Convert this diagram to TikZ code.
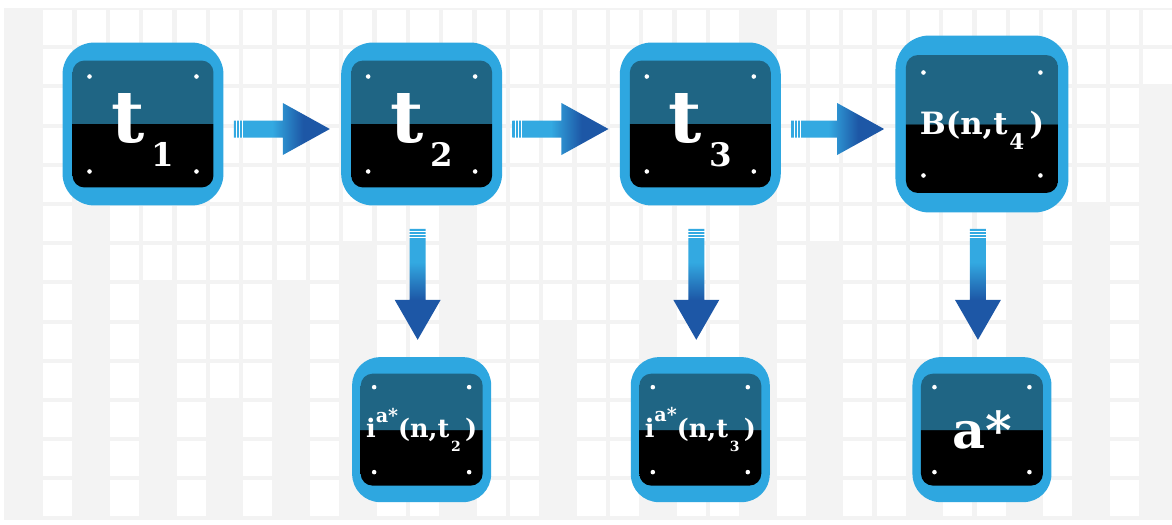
\documentclass[tikz,border=0pt]{standalone}
\usepackage{fontspec}
\usepackage{graphicx}
\setmainfont{DejaVu Serif}
\usetikzlibrary{positioning,calc}

\definecolor{marco}{HTML}{2EA7E0}
\definecolor{tapa}{HTML}{1F6584}
\definecolor{fondo}{HTML}{F3F3F3}
\definecolor{flechaclaro}{HTML}{33A9E1}
\definecolor{flechaoscuro}{HTML}{1D57A6}

\pgfdeclareverticalshading{partida}{100bp}{color(0bp)=(black); color(50bp)=(black); color(50bp)=(tapa); color(100bp)=(tapa)}
\pgfdeclarehorizontalshading{hflecha}{100bp}{color(0bp)=(flechaclaro); color(45bp)=(flechaclaro); color(61bp)=(flechaoscuro); color(100bp)=(flechaoscuro)}
\pgfdeclareverticalshading{vflecha}{100bp}{color(0bp)=(flechaoscuro); color(43bp)=(flechaoscuro); color(60bp)=(flechaclaro); color(100bp)=(flechaclaro)}

\newcommand\bajo[3]{\kern1pt\raisebox{-#1em}{\scalebox{#2}{#3}}}
\newcommand\alto[3]{\raisebox{#1em}{\scalebox{#2}{#3}}}

\tikzset{
	caja/.style n args={6}{rectangle, rounded corners=#3, fill=marco, text=white,
		minimum width=#1, minimum height=#2, inner sep=0pt,
		path picture={
			\shade[shading=partida, rounded corners=0.24cm]
				($(path picture bounding box.north west)+(#4)$) rectangle
				($(path picture bounding box.south east)-(#4)$);
			\fill[white] ($(path picture bounding box.north west)+(#5,#6)$) circle (1.3pt);
			\fill[white] ($(path picture bounding box.north east)+(-#5,#6)$) circle (1.3pt);
			\fill[white] ($(path picture bounding box.south west)+(#5,-#6)$) circle (1.3pt);
			\fill[white] ($(path picture bounding box.south east)+(-#5,-#6)$) circle (1.3pt);
		}},
	grande/.style={caja={3.22cm}{3.26cm}{0.64cm}{10,18}{27}{34},
		font=\bfseries\fontsize{41}{44}\selectfont, text height=36pt, text depth=15pt},
	final/.style={caja={3.46cm}{3.54cm}{0.68cm}{10.5,19.5}{28}{37},
		font=\bfseries\fontsize{17.5}{20}\selectfont, text height=20pt, text depth=8.6pt},
	chica/.style={caja={2.78cm}{2.9cm}{0.56cm}{8.5,16.5}{22}{30},
		font=\bfseries\fontsize{14.5}{16}\selectfont},
	hflecha/.style={shading=hflecha},
	vflecha/.style={shading=vflecha},
	raya/.style={white, line width=0.7pt}
}

\begin{document}
\begin{tikzpicture}[x=0.02cm, y=-0.02cm, node distance=2.34cm]
	\useasboundingbox (0,0) rectangle (1172,524);
	\fill[white] (0,0) rectangle (1172,524);
	\fill[fondo] (4,8) rectangle (1172,520);
	\foreach \k/\r in {0/0,1/13,2/5,3/13,4/7,5/13,6/10,7/13,8/7,9/13,10/6,11/13,12/13,13/5,14/13,15/13,16/8,17/13,18/13,19/7,20/13,21/13,22/0,23/13,24/6,25/13,26/13,27/9,28/13,29/13,30/4,31/13,32/5,33/13,34/2} {
		\foreach \j in {0,...,12} {
			\ifnum\j<\r \fill[white] ({33.33*\k+10},{10+39.2*\j}) rectangle ++(29,35.2);\fi
		}
	}
	
	\node[grande] (t1) at (143,124) {t\kern3pt\bajo{.34}{.45}{1}};
	\node[grande, right=of t1] (t2) {t\kern3pt\bajo{.34}{.45}{2}};
	\node[grande, right=of t2] (t3) {t\kern3pt\bajo{.34}{.45}{3}};
	\node[final, right=2.28cm of t3] (bt) {B(n,t\bajo{.5}{.7}{4}\,)};
	
	\node[chica, below=3.02cm of t2] (i2) {i\alto{.6}{.75}{a*}(n,t\bajo{.55}{.55}{2}\,)};
	\node[chica, below=3.02cm of t3] (i3) {i\alto{.6}{.75}{a*}(n,t\bajo{.55}{.55}{3}\,)};
	\node[chica, below=2.88cm of bt] (as) {\fontsize{29}{30}\selectfont a*};
	
	\foreach \a/\b in {t1/t2, t2/t3, t3/bt} {
		\coordinate (ini) at ($(\a.east)+(10,5)$);
		\coordinate (fin) at ($(\b.west)+(-11,5)$);
		\shade[hflecha] ($(ini)+(0,-8.5)$) -- ($(fin)+(-47,-8.5)$) -- ($(fin)+(-47,-26)$) -- (fin)
			-- ($(fin)+(-47,26)$) -- ($(fin)+(-47,8.5)$) -- ($(ini)+(0,8.5)$) -- cycle;
		\foreach \s in {3,6,9} \draw[raya] ($(ini)+(\s,-9)$) -- ++(0,18);
	}
	\foreach \a/\b/\d in {t2/i2/23, t3/i3/23, bt/as/16} {
		\coordinate (ini) at ($(\a.south)+(-4,\d)$);
		\coordinate (tope) at ($(\b.north)+(0,-17)$);
		\coordinate (fin) at (ini |- tope);
		\shade[vflecha] ($(ini)+(-8,0)$) -- ($(fin)+(-8,-40)$) -- ($(fin)+(-23,-40)$) -- (fin)
			-- ($(fin)+(23,-40)$) -- ($(fin)+(8,-40)$) -- ($(ini)+(8,0)$) -- cycle;
		\foreach \s in {3,6,9} \draw[raya] ($(ini)+(-9,\s)$) -- ++(18,0);
	}
\end{tikzpicture}
\end{document}
